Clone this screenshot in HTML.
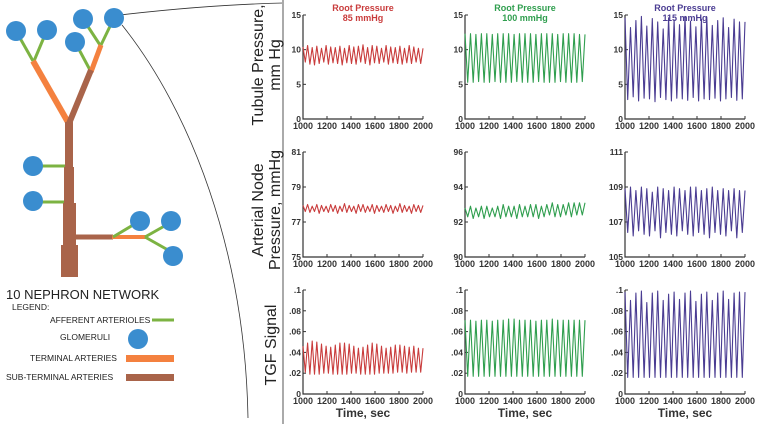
<!DOCTYPE html>
<html><head><meta charset="utf-8"><style>
body{margin:0;background:#fff;}
svg{display:block;font-family:"Liberation Sans",sans-serif;}
</style></head><body>
<svg id="fig" width="764" height="424" viewBox="0 0 764 424">
<g>
 <path d="M120,15 C180,8 240,4 283,3" fill="none" stroke="#333" stroke-width="0.8"/>
 <path d="M122,25 C190,110 245,250 248,418" fill="none" stroke="#333" stroke-width="0.8"/>
 <g stroke-linecap="butt" fill="none">
  <line x1="16" y1="31" x2="33" y2="61" stroke="#7cb342" stroke-width="3"/>
  <line x1="47" y1="30" x2="34" y2="61" stroke="#7cb342" stroke-width="3"/>
  <line x1="83" y1="19" x2="100" y2="45" stroke="#7cb342" stroke-width="3"/>
  <line x1="114" y1="18" x2="101" y2="45" stroke="#7cb342" stroke-width="3"/>
  <line x1="75" y1="42" x2="90" y2="70" stroke="#7cb342" stroke-width="3"/>
  <line x1="33" y1="61" x2="69" y2="124" stroke="#f4813f" stroke-width="6"/>
  <line x1="101" y1="45" x2="91" y2="72" stroke="#f4813f" stroke-width="5"/>
  <line x1="91" y1="70" x2="68" y2="126" stroke="#a9644a" stroke-width="6"/>
  <line x1="40" y1="166" x2="66" y2="166" stroke="#7cb342" stroke-width="3"/>
  <line x1="40" y1="202" x2="64" y2="202" stroke="#7cb342" stroke-width="3"/>
  <line x1="75" y1="237" x2="113" y2="237" stroke="#a9644a" stroke-width="5"/>
  <line x1="112" y1="237" x2="146" y2="237" stroke="#f4813f" stroke-width="4"/>
  <line x1="113" y1="237" x2="138" y2="222" stroke="#7cb342" stroke-width="3"/>
  <line x1="145" y1="237" x2="168" y2="224" stroke="#7cb342" stroke-width="3"/>
  <line x1="145" y1="237" x2="168" y2="250" stroke="#7cb342" stroke-width="3"/>
 </g>
 <g fill="#a9644a">
  <rect x="65" y="122" width="8" height="46"/>
  <rect x="64" y="167" width="10" height="37"/>
  <rect x="63" y="203" width="13" height="43"/>
  <rect x="61" y="245" width="17" height="32"/>
 </g>
 <g fill="#3a8dcf">
  <circle cx="16" cy="31" r="10"/><circle cx="47" cy="30" r="10"/><circle cx="83" cy="19" r="10"/><circle cx="114" cy="18" r="10"/><circle cx="75" cy="42" r="10"/>
  <circle cx="33" cy="166" r="10"/><circle cx="33" cy="201" r="10"/><circle cx="140" cy="221" r="10"/><circle cx="171" cy="221" r="10"/><circle cx="173" cy="256" r="10"/>
 </g>
 <text x="6" y="299" font-size="13" fill="#222">10 NEPHRON NETWORK</text>
 <text x="12" y="310" font-size="8.5" fill="#222">LEGEND:</text>
 <text x="50" y="323" font-size="8.5" fill="#222">AFFERENT ARTERIOLES</text>
 <line x1="152" y1="320" x2="174" y2="320" stroke="#7cb342" stroke-width="3"/>
 <text x="60" y="340" font-size="8.5" fill="#222">GLOMERULI</text>
 <circle cx="138" cy="339" r="10" fill="#3a8dcf"/>
 <text x="30" y="361" font-size="8.5" fill="#222">TERMINAL ARTERIES</text>
 <rect x="126" y="355" width="48" height="7" fill="#f4813f"/>
 <text x="6" y="380" font-size="8.5" fill="#222">SUB-TERMINAL ARTERIES</text>
 <rect x="126" y="374" width="48" height="7" fill="#a9644a"/>
</g>
<line x1="283" y1="0" x2="283" y2="424" stroke="#aaa" stroke-width="2"/>
<g font-size="16" fill="#222" text-anchor="middle">
 <text transform="translate(263,65) rotate(-90)">Tubule Pressure,</text>
 <text transform="translate(280,65) rotate(-90)">mm Hg</text>
 <text transform="translate(263,210) rotate(-90)">Arterial Node</text>
 <text transform="translate(280,210) rotate(-90)">Pressure, mmHg</text>
 <text transform="translate(276,345) rotate(-90)">TGF Signal</text>
</g>
<g id="charts"></g>
</svg>
<script>
// time range and tick labels
const xTicks = [1000,1200,1400,1600,1800,2000];
const xTickLabels = ["1000","1200","1400","1600","1800","2000"];
// cycle peak/trough values per panel
const tubRedMax = [10.4,10.6,10.3,10.5,10.2,10.6,10.4,10.3,10.5,10.2,10.6,10.4,10.5,10.7,10.3,10.6,10.5,10.2,10.6,10.4,10.3,10.5,10.2,10.6,10.4,10.2];
const tubRedMin = [8.2,7.9,7.8,8.0,8.2,7.9,8.1,8.0,7.8,8.1,8.0,7.9,8.2,8.0,7.8,8.1,8.0,8.2,7.9,8.1,8.0,7.9,8.1,8.0,8.2,8.0];
const tubGreenMax = [12.3,12.3,12.2,12.3,12.3,12.2,12.3,12.3,12.3,12.2,12.3,12.3,12.3,12.2,12.3,12.3,12.3,12.2,12.3,12.3,12.3,12.2];
const tubGreenMin = [5.3,5.3,5.4,5.3,5.3,5.4,5.3,5.3,5.3,5.4,5.3,5.3,5.3,5.4,5.3,5.3,5.3,5.4,5.3,5.3,5.3,5.4];
const tubPurpleMax = [14.6,13.2,14.2,14.8,13.4,14.5,14.0,13.0,14.6,14.3,13.6,14.8,14.1,13.3,14.4,14.7,13.5,14.2,14.6,13.2,14.4,14.0];
const tubPurpleMin = [2.8,3.2,2.6,3.0,2.9,2.5,3.1,2.8,2.6,3.0,2.9,2.7,3.1,2.6,2.9,2.8,3.0,2.6,2.9,3.1,2.7,2.9];
const artRedMax = [77.95,78.0,77.9,78.0,77.95,77.9,78.0,77.95,77.9,78.05,77.95,77.9,78.0,78.0,77.9,78.0,77.95,77.9,78.0,77.95,77.9,78.05,77.95,77.9,78.0,77.95];
const artRedMin = [77.6,77.55,77.6,77.5,77.6,77.55,77.6,77.5,77.6,77.55,77.6,77.5,77.6,77.55,77.6,77.5,77.6,77.55,77.6,77.5,77.6,77.55,77.6,77.5,77.6,77.55];
const artGreenMax = [92.8,92.9,92.8,92.9,92.9,92.8,92.9,93.0,92.9,92.9,93.0,92.9,93.0,93.0,92.9,93.0,93.1,93.0,93.0,93.1,93.1,93.1];
const artGreenMin = [92.3,92.2,92.3,92.2,92.3,92.3,92.2,92.3,92.3,92.2,92.3,92.3,92.3,92.2,92.3,92.4,92.3,92.3,92.4,92.3,92.4,92.4];
const artPurpleMax = [108.9,109.0,108.8,109.0,108.9,108.7,109.0,108.9,108.8,109.0,108.9,108.8,109.0,109.0,108.8,108.9,109.0,108.8,108.9,108.8,108.9,108.8];
const artPurpleMin = [106.4,106.2,106.5,106.3,106.2,106.5,106.1,106.4,106.3,106.2,106.5,106.3,106.2,106.4,106.3,106.1,106.4,106.3,106.2,106.5,106.1,106.4];
const tgfRedMax = [0.046,0.049,0.051,0.050,0.048,0.046,0.045,0.047,0.049,0.049,0.048,0.046,0.044,0.045,0.047,0.049,0.048,0.046,0.044,0.045,0.047,0.047,0.046,0.045,0.046,0.044];
const tgfRedMin = [0.021,0.019,0.019,0.019,0.020,0.020,0.019,0.019,0.019,0.019,0.020,0.020,0.019,0.019,0.019,0.019,0.020,0.020,0.020,0.020,0.021,0.021,0.020,0.021,0.021,0.021];
const tgfGreenMax = [0.071,0.071,0.070,0.071,0.071,0.070,0.071,0.071,0.072,0.072,0.071,0.071,0.071,0.070,0.071,0.071,0.072,0.071,0.071,0.071,0.071,0.071];
const tgfGreenMin = [0.017,0.017,0.017,0.017,0.017,0.017,0.017,0.017,0.017,0.017,0.017,0.017,0.017,0.017,0.017,0.017,0.017,0.017,0.017,0.017,0.017,0.017];
const tgfPurpleMax = [0.098,0.090,0.097,0.099,0.088,0.097,0.099,0.090,0.096,0.098,0.091,0.097,0.099,0.089,0.096,0.098,0.090,0.097,0.099,0.091,0.097,0.098];
const tgfPurpleMin = [0.016,0.016,0.016,0.016,0.016,0.016,0.016,0.016,0.016,0.016,0.016,0.016,0.016,0.016,0.016,0.016,0.016,0.016,0.016,0.016,0.016,0.016];
const row1Ticks = [0,5,10,15];
const row1TickLabels = ["0","5","10","15"];
const row2TicksRed = [75,77,79,81];
const row2TicksGreen = [90,92,94,96];
const row2TicksPurple = [105,107,109,111];
const row3Ticks = [0,0.02,0.04,0.06,0.08,0.1];
const row3TickLabels = ["0",".02",".04",".06",".08",".1"];
const colTitles = ["85 mmHg","100 mmHg","115 mmHg"];

const NS="http://www.w3.org/2000/svg";
const root=document.getElementById('charts');
const colors=["#c93c3c","#2f9e4e","#4a3c92"];
const colX=[[303,423],[465,585],[625,745]];
const rowY=[[15,119],[152,257],[290,394]];
function mk(tag,attrs,parent){const e=document.createElementNS(NS,tag);for(const k in attrs)e.setAttribute(k,attrs[k]);parent.appendChild(e);return e;}

function panel(r,c,ticks,labels,ymin,ymax,maxs,mins,name){
  const [x0,x1]=colX[c],[y0,y1]=rowY[r];
  const sx=v=>x0+(v-1000)/1000*(x1-x0);
  const sy=v=>y1-(v-ymin)/(ymax-ymin)*(y1-y0);
  const g=mk('g',{},root);
  
  
  const ax=mk('path',{d:`M${x0},${y0}V${y1}H${x1}`,fill:'none',stroke:'#333','stroke-width':1.2},g);
  
  
  ticks.forEach((t,i)=>{
    const y=sy(t);
    mk('line',{x1:x0,x2:x0+3,y1:y,y2:y,stroke:'#333'},g);
    const tx=mk('text',{x:x0-2,y:y+3,'font-size':8.5,'font-weight':'bold','text-anchor':'end',fill:'#333'},g);
    tx.textContent=labels[i];
    
    
  });
  xTicks.forEach((t,i)=>{
    const x=sx(t);
    mk('line',{x1:x,x2:x,y1:y1,y2:y1-3,stroke:'#333'},g);
    const tx=mk('text',{x:x,y:y1+10,'font-size':9,'font-weight':'bold','text-anchor':'middle',fill:'#333'},g);
    tx.textContent=xTickLabels[i];
    
    
  });
  const n=maxs.length, P=1000/n;
  let pts=[];
  for(let i=0;i<n;i++){
    const t=1000+i*P;
    pts.push(sx(t).toFixed(1)+','+sy(maxs[i]).toFixed(1));
    pts.push(sx(t+P/2).toFixed(1)+','+sy(mins[i]).toFixed(1));
  }
  pts.push(sx(2000).toFixed(1)+','+sy(maxs[n-1]).toFixed(1));
  const pl=mk('polyline',{points:pts.join(' '),fill:'none',stroke:colors[c],'stroke-width':1.1,'stroke-linejoin':'round'},g);
  
  
  if(r===0){
    const cx=(x0+x1)/2;
    const t1=mk('text',{x:cx,y:11,'font-size':9,'font-weight':'bold','text-anchor':'middle',fill:colors[c]},g);
    t1.textContent='Root Pressure';
    
    
    const t2=mk('text',{x:cx,y:21,'font-size':9,'font-weight':'bold','text-anchor':'middle',fill:colors[c]},g);
    t2.textContent=colTitles[c];
    
    
  }
  if(r===2){
    const t=mk('text',{x:(x0+x1)/2,y:417,'font-size':12,'font-weight':'bold','text-anchor':'middle',fill:'#333'},g);
    t.textContent='Time, sec';
    
    
  }
}
panel(0,0,row1Ticks,row1TickLabels,0,15,tubRedMax,tubRedMin,'tubule-85');
panel(0,1,row1Ticks,row1TickLabels,0,15,tubGreenMax,tubGreenMin,'tubule-100');
panel(0,2,row1Ticks,row1TickLabels,0,15,tubPurpleMax,tubPurpleMin,'tubule-115');
panel(1,0,row2TicksRed,row2TicksRed.map(String),75,81,artRedMax,artRedMin,'arterial-85');
panel(1,1,row2TicksGreen,row2TicksGreen.map(String),90,96,artGreenMax,artGreenMin,'arterial-100');
panel(1,2,row2TicksPurple,row2TicksPurple.map(String),105,111,artPurpleMax,artPurpleMin,'arterial-115');
panel(2,0,row3Ticks,row3TickLabels,0,0.1,tgfRedMax,tgfRedMin,'tgf-85');
panel(2,1,row3Ticks,row3TickLabels,0,0.1,tgfGreenMax,tgfGreenMin,'tgf-100');
panel(2,2,row3Ticks,row3TickLabels,0,0.1,tgfPurpleMax,tgfPurpleMin,'tgf-115');
</script>
</body></html>
